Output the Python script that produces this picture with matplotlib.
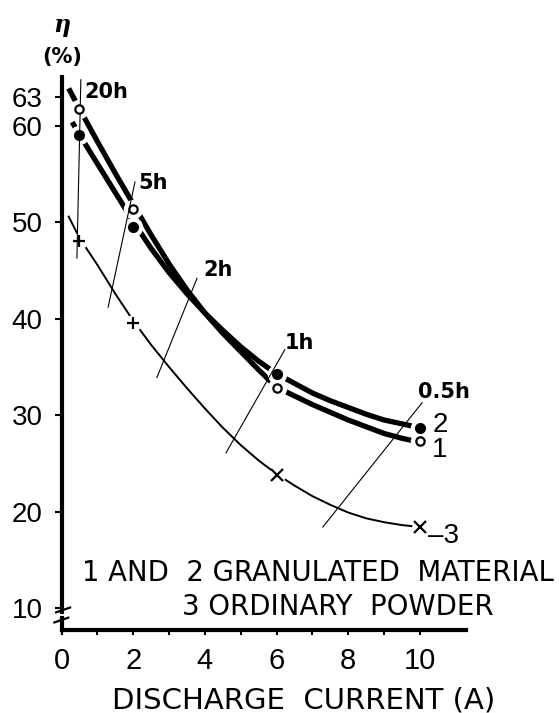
import matplotlib.pyplot as plt

# Values: discharge current (A) vs. efficiency eta (%)
current_pts = [0.5, 2, 6, 10]
eta_1_pts = [61.8, 51.4, 32.8, 27.3]   # 1 granulated material (open circles)
eta_2_pts = [59.1, 49.5, 34.3, 28.7]   # 2 granulated material (filled circles)
eta_3_pts = [48.1, 39.6, 23.8, 18.4]   # 3 ordinary powder
marker_3 = ['+', '+', 'x', 'x']

# traced fitted curves
curve_1_x = [0.2, 0.5, 1.0, 1.5, 2.0, 2.5, 3.0, 3.5, 4.0, 4.5, 5.0, 5.5, 6.0,
             6.5, 7.0, 7.5, 8.0, 8.5, 9.0, 9.5, 10.0]
curve_1_y = [63.9, 61.8, 58.4, 55.1, 51.9, 48.7, 45.7, 43.0, 40.6, 38.5, 36.6,
             34.7, 32.9, 32.0, 31.1, 30.3, 29.5, 28.8, 28.1, 27.6, 27.2]
curve_2_x = [0.3, 0.5, 1.0, 1.5, 2.0, 2.5, 3.0, 3.5, 4.0, 4.5, 5.0, 5.5, 6.0,
             6.5, 7.0, 7.5, 8.0, 8.5, 9.0, 9.5, 10.0]
curve_2_y = [60.4, 59.1, 56.1, 53.1, 50.1, 47.3, 44.8, 42.6, 40.6, 38.8, 37.1,
             35.6, 34.3, 33.3, 32.3, 31.5, 30.8, 30.1, 29.5, 29.1, 28.7]
curve_3_x = [0.2, 0.5, 1.0, 1.5, 2.0, 2.5, 3.0, 3.5, 4.0, 4.5, 5.0, 5.5, 6.0,
             6.5, 7.0, 7.5, 8.0, 8.5, 9.0, 9.5, 10.0]
curve_3_y = [50.6, 48.4, 45.6, 42.6, 39.8, 37.3, 35.0, 32.8, 30.7, 28.7, 26.9,
             25.3, 23.9, 22.7, 21.6, 20.7, 19.9, 19.3, 18.9, 18.6, 18.4]

# discharge-time lines
hour_labels = ['20h', '5h', '2h', '1h', '0.5h']
hour_x = [(0.54, 0.43), (2.05, 1.30), (3.78, 2.66), (6.23, 4.59), (10.06, 7.29)]
hour_y = [(64.8, 46.3), (54.2, 41.2), (44.2, 33.9), (36.8, 26.1), (31.3, 18.4)]

x_ticks = [0, 2, 4, 6, 8, 10]
x_minor = [1, 3, 5, 7, 9]
y_ticks = [10, 20, 30, 40, 50, 60, 63]

plt.rcParams['font.family'] = ['Liberation Sans', 'DejaVu Sans']

W, H = 559, 713
fig = plt.figure(figsize=(W / 100, H / 100), dpi=100)
ax = fig.add_axes([0, 0, 1, 1])
ax.set_xlim(-61.5 / 35.85, (W - 61.5) / 35.85)
ax.set_ylim(10 - (H - 608) / 9.64, 10 + 608 / 9.64)

# axes
y_base = 7.72
for s in ['top', 'right']:
    ax.spines[s].set_visible(False)
ax.spines['left'].set_position(('data', 0))
ax.spines['left'].set_bounds(9.55, 65.1)
ax.spines['bottom'].set_position(('data', y_base))
ax.spines['bottom'].set_bounds(0, 11.27)
for s in ['left', 'bottom']:
    ax.spines[s].set_linewidth(3)
ax.plot([0, 0], [y_base, 9.0], color='k', lw=3, solid_capstyle='projecting')
ax.plot([-0.15, 0.24], [9.55, 10.05], color='k', lw=1.6)
ax.plot([-0.2, 0.19], [8.5, 9.0], color='k', lw=1.6)

ax.set_xticks(x_ticks)
ax.set_xticks(x_minor, minor=True)
ax.set_yticks(y_ticks)
ax.tick_params(axis='x', which='both', direction='out', length=3.5, width=1.5,
               pad=9, labelsize=21)
ax.tick_params(axis='y', direction='out', length=5, width=1.5, pad=8.5,
               labelsize=20)

# curves
ax.plot(curve_1_x, curve_1_y, color='k', lw=3.8, solid_capstyle='butt', zorder=2)
ax.plot(curve_2_x, curve_2_y, color='k', lw=3.8, solid_capstyle='butt', zorder=2)
ax.plot(curve_3_x, curve_3_y, color='k', lw=1.4, zorder=2)

# white gaps round the points
for ys, ms in [(eta_1_pts, 13), (eta_2_pts, 13), (eta_3_pts, 11)]:
    ax.plot(current_pts, ys, ls='none', marker='o', ms=ms, mfc='white',
            mec='white', zorder=3)

# discharge-time lines and labels
label_offsets = [(4, -12), (3, -1), (6, 8), (0, 7), (-4, 11)]
for lbl, hx, hy, off in zip(hour_labels, hour_x, hour_y, label_offsets):
    ax.plot(hx, hy, color='k', lw=0.8, zorder=4)
    ax.annotate(lbl, xy=(hx[0], hy[0]), xytext=off, textcoords='offset pixels',
                ha='left', va='center', family='DejaVu Sans', weight='bold',
                fontsize=15)

# points
ax.plot(current_pts, eta_1_pts, ls='none', marker='o', ms=6, mfc='white',
        mec='k', mew=1.6, zorder=5)
ax.plot(current_pts, eta_2_pts, ls='none', marker='o', ms=7, color='k', zorder=5)
for cx, cy, m in zip(current_pts, eta_3_pts, marker_3):
    ax.plot(cx, cy, ls='none', marker=m, ms=8, mew=1.6, color='k', zorder=5)

# curve numbers
ax.annotate('2', xy=(current_pts[-1], eta_2_pts[-1]), xytext=(13, -4),
            textcoords='offset pixels', va='baseline', fontsize=20)
ax.annotate('1', xy=(current_pts[-1], eta_1_pts[-1]), xytext=(12, -16),
            textcoords='offset pixels', va='baseline', fontsize=20)
ax.annotate('\u20133', xy=(current_pts[-1], eta_3_pts[-1]), xytext=(8, -16),
            textcoords='offset pixels', va='baseline', fontsize=20)

# texts
fig.text(82 / W, 1 - 581 / H, '1 AND  2 GRANULATED  MATERIAL', family='DejaVu Sans',
         fontsize=19.8, va='baseline')
fig.text(182 / W, 1 - 615 / H, '3 ORDINARY  POWDER', family='DejaVu Sans',
         fontsize=19.8, va='baseline')
fig.text(112 / W, 1 - 708 / H, 'DISCHARGE  CURRENT (A)', family='DejaVu Sans',
         fontsize=21, va='baseline')
fig.text(62 / W, 1 - 25 / H, '\u03b7', family='DejaVu Serif', style='italic',
         weight='bold', fontsize=17, ha='center', va='center')
fig.text(62 / W, 1 - 57 / H, '(%)', family='DejaVu Sans', weight='bold',
         fontsize=15, ha='center', va='center')

fig.savefig('out.png', dpi=100)
